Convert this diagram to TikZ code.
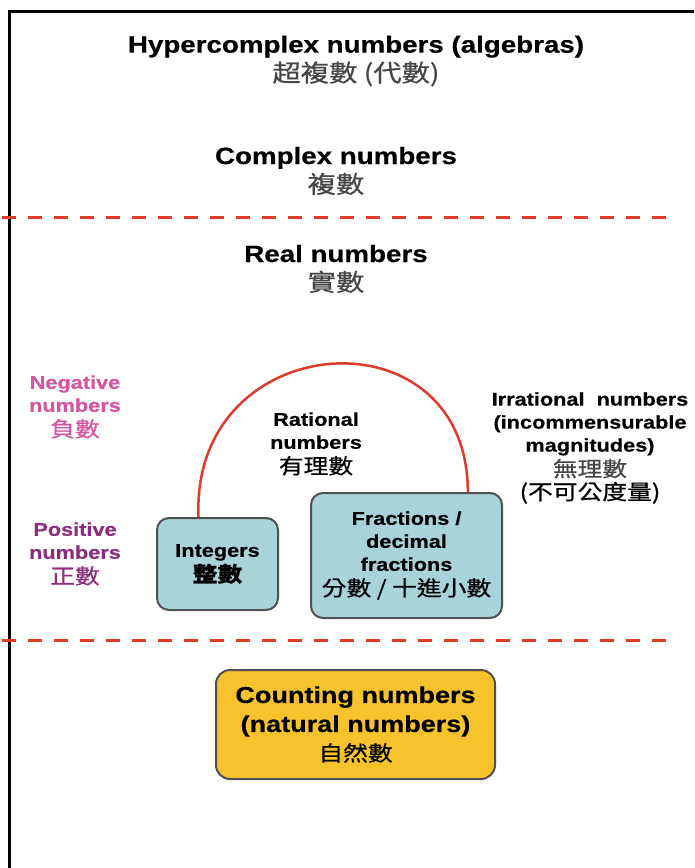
\documentclass[tikz,border=0pt]{standalone}
\usepackage{fontspec}
\setmainfont{Liberation Sans}
\newfontfamily\lsb{Liberation Sans Bold}[FakeStretch=1.18, FakeBold=0.5]
\newfontfamily\cjk{Noto Sans CJK TC}[FakeStretch=1.18, FakeBold=0.6]
\usepackage{tikz}
\usetikzlibrary{positioning}
\definecolor{ratred}{RGB}{224,58,40}
\definecolor{negpink}{RGB}{212,86,160}
\definecolor{pospurple}{RGB}{140,45,125}
\definecolor{boxblue}{RGB}{168,211,216}
\definecolor{boxyellow}{RGB}{247,194,44}
\definecolor{boxedge}{RGB}{80,80,80}
\definecolor{cjkgray}{RGB}{70,70,70}
\newcommand{\zhbig}[1]{{\cjk\mdseries\fontsize{24}{29}\selectfont\color{cjkgray}#1}}
\newcommand{\zhsmall}[1]{{\cjk\fontsize{21}{23}\selectfont #1}}
\tikzset{
  heading/.style={
    align=center, inner sep=0pt, font=\lsb\fontsize{23.5}{29}\selectfont
  },
  sidetext/.style={
    align=center, inner sep=0pt, font=\lsb\fontsize{18.4}{23}\selectfont
  },
  numbox/.style={
    rectangle, rounded corners=12pt, draw=boxedge, line width=2pt,
    fill=boxblue, align=center, inner sep=0pt,
    font=\lsb\fontsize{18.4}{23}\selectfont
  },
  natbox/.style={
    rectangle, rounded corners=14pt, draw=boxedge, line width=2pt,
    fill=boxyellow, align=center, inner sep=0pt,
    font=\lsb\fontsize{22.9}{29}\selectfont
  },
  divider/.style={line width=3pt, color=ratred, dash pattern=on 14pt off 12pt},
  arcline/.style={line width=2.5pt, color=ratred}
}
\begin{document}
\begin{tikzpicture}[x=1pt, y=-1pt]
  \useasboundingbox (0,0) rectangle (694,868);

  % Frame
  \draw[line width=3pt] (9.5,868) -- (9.5,11) -- (694,11);

  % Number systems, top to bottom
  \node[heading] (hyper) at (356,61)
    {Hypercomplex numbers (algebras)\\ \zhbig{超複數 (代數)}};
  \node[heading] (complex) at (336,171)
    {Complex numbers\\ \zhbig{複數}};

  \draw[divider] (2,217) -- (672,217);

  \node[heading] (real) at (336,269)
    {Real numbers\\ \zhbig{實數}};

  % Sign labels
  \node[sidetext, text=negpink] (negnum) at (75,407)
    {Negative\\ numbers\\[2pt] \zhsmall{負數}};
  \node[sidetext, text=pospurple] (posnum) at (75,554)
    {Positive\\ numbers\\[2pt] \zhsmall{正數}};

  % Rational and irrational
  \node[sidetext] (rational) at (316,444)
    {Rational\\ numbers\\[2pt] \zhsmall{有理數}};
  \node[sidetext] (irrational) at (590,448)
    {Irrational~ numbers\\ (incommensurable\\ magnitudes)\\[2pt]
     {\color{cjkgray}\zhsmall{無理數}}\\ \zhsmall{(不可公度量)}};

  \node[numbox, minimum width=121pt, minimum height=92pt] (integers) at (217.5,564)
    {Integers\\[2pt] {\bfseries\zhsmall{整數}}};
  \node[numbox, minimum width=191pt, minimum height=125pt] (fractions) at (406.5,555.5)
    {Fractions /\\ decimal\\ fractions\\[2pt] \zhsmall{分數 / 十進小數}};

  \draw[arcline] (integers.112) .. controls +(-8,-190) and +(0,-185) .. (fractions.46);

  \draw[divider] (2,640) -- (672,640);

  % Natural numbers
  \node[natbox, minimum width=279pt, minimum height=109pt] (counting) at (355.5,724.5)
    {Counting numbers\\ (natural numbers)\\ {\cjk\fontsize{21}{29}\selectfont 自然數}};
\end{tikzpicture}
\end{document}
